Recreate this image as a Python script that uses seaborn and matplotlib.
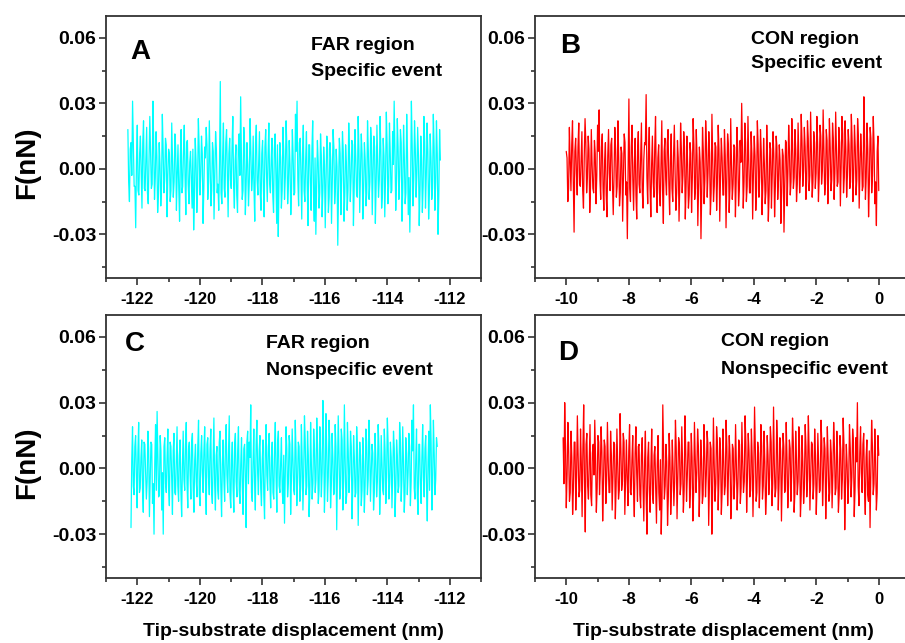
"""
AFM force traces: FAR vs CON region, specific / nonspecific events (4 panels)
"""

import numpy as np
import pandas as pd
import matplotlib
matplotlib.use("Agg")
import matplotlib.pyplot as plt
import seaborn as sns
from matplotlib.ticker import MultipleLocator, FormatStrFormatter

sns.set_style("ticks")
plt.rcParams['font.family'] = ['Liberation Sans', 'DejaVu Sans']
plt.rcParams['font.weight'] = 'bold'
plt.rcParams['axes.unicode_minus'] = False
plt.rcParams['text.color'] = 'black'
plt.rcParams['xtick.labelcolor'] = 'black'
plt.rcParams['ytick.labelcolor'] = 'black'

# displacement range of each trace (nm)
x_range_a = (-122.3, -112.3)
x_range_b = (-10.0, 0.0)
x_range_c = (-122.2, -112.4)
x_range_d = (-10.1, 0.0)

# force readings, pN: peaks of the trace (even samples) ...
force_a_pN = [
    18, -15, 12, 31, -8, -27, 20, -12, 15, -18,
    22, -10, 19, -16, 24, -9, 31, -14, 17, -20,
    12, -17, 25, -11, 14, -22, 9, -15, 21, -13,
    16, -19, 11, -24, 18, -8, 20, -21, 13, -16,
    8, -18, -28, 14, -20, 23, -12, 15, -25, 10,
    19, -14, 22, -17, 12, -23, 17, -11, -19, 40,
    -16, 21, -13, 18, -22, 14, -9, 24, -18, 11,
    -20, 16, 33, -14, 19, -21, 12, -17, 23, -10,
    15, -24, 20, -12, 17, -19, 13, -22, 18, -15,
    21, -11, 14, -20, 16, -25, -31, 12, -18, 19,
    -14, 22, -16, 13, -21, 18, -12, 25, 31, -17,
    14, -23, 20, -15, 17, -26, 11, -19, 22, -24,
    -30, 13, -18, 16, -22, 10, -27, 15, -20, 12,
    -25, 18, -16, 9, -35, 14, -21, 17, -24, 11,
    -19, 21, -15, 13, -26, 18, -12, 24, -20, 16,
    -23, 12, -17, 22, -14, 19, -21, 15, -25, 20,
    -13, 24, -18, 14, -22, 26, -16, 21, -11, 17,
    31, -19, 23, -14, 18, -24, 20, -16, 25, -21,
    -29, 31, -17, 22, -13, 19, -26, 15, -20, 24,
    -18, 21, -23, 16, -14, 25, -19, 22, -30, 18,
]
force_b_pN = [
    8, -15, 19, -10, 22, -29, 14, -12, 21, -8,
    17, -18, 23, -11, 15, -20, 18, -9, 13, -16,
    20, 27, -14, 16, -19, 12, -22, 18, -10, 14,
    -21, 19, -13, 22, -17, 10, -24, 16, -12, -32,
    32, -15, 20, -19, 14, -23, 17, -11, 21, -18,
    12, 34, -16, 19, -22, 15, -13, 24, -20, 11,
    -17, 22, -25, 14, -12, 18, -21, 16, -15, 20,
    -19, 13, -24, 21, -11, 17, -23, 15, -18, 12,
    -20, 23, -14, 18, -26, 10, -32, 19, -16, 22,
    -13, 17, -21, 25, -15, 12, -19, 20, -24, 14,
    -12, 18, -27, 16, -20, 23, -14, 11, -22, 19,
    -17, 13, 30, -18, 21, -15, 24, -11, 17, -23,
    15, -19, 22, -13, 18, -21, 14, -16, 20, -24,
    12, -18, 17, -22, 15, -14, 11, -25, 9, -29,
    13, -17, 20, -12, 23, -9, 18, -15, 21, -11,
    25, -8, 19, -14, 22, -10, 26, -13, 17, -9,
    24, -15, 20, -7, 27, -12, 18, -16, 23, -10,
    21, -14, 26, -8, 19, -17, 24, -11, 22, -13,
    18, -9, 25, -15, 20, -12, 23, -18, 16, -10,
    33, -14, 21, -22, 19, -11, 24, -16, -26, 15,
]
force_c_pN = [
    -27, 19, -12, 15, -18, 21, -9, 13, -20, 11,
    -14, 17, -22, 12, -16, -30, 20, 26, -13, 15,
    -19, -30, 14, -11, 18, -17, 10, -21, 16, -12,
    19, -15, 13, -22, 17, -10, 21, -18, 12, -14,
    16, -20, 11, -13, 22, -17, 15, -11, 19, -21,
    14, -12, 18, -16, 23, -19, 10, -14, 17, -22,
    13, -15, 20, -11, 24, -18, 12, -20, 16, -13,
    19, -16, 14, -21, 11, -27, 17, 12, 29, -15,
    18, -19, 22, -12, 15, -17, 13, -23, 20, -10,
    16, -18, 12, -14, 21, -20, 17, -11, 14, -16,
    -25, 19, -13, 15, -21, 18, -10, 22, -17, 12,
    -15, 20, -19, 24, -12, 17, -22, 21, -14, 18,
    -11, 23, -16, 19, -13, 31, -20, 25, -15, 22,
    -18, 16, -12, 20, -28, 24, -14, 18, -19, 29,
    -16, 21, -11, 17, -23, 15, -13, 19, -26, 12,
    -17, 14, -20, 18, -12, 22, -15, 11, -19, 16,
    -13, 20, -21, 15, -10, 18, -16, 23, -14, 12,
    -18, 17, -22, 13, -11, 21, -15, 19, -20, 14,
    -12, 16, -17, 22, 29, -14, 18, -21, 11, -16,
    20, -13, 15, -24, 17, 29, -19, 22, -12, 14,
]
force_d_pN = [
    14, 30, -18, 21, -15, 17, -21, 12, -19, 24,
    -13, 18, -22, 29, -29, 16, -14, 20, -17, 11,
    22, -20, 15, -12, 19, -24, 13, -16, 21, -11,
    17, -19, 12, -23, 18, -14, 25, -10, 16, -21,
    13, -17, 20, -12, 15, -22, 19, -15, 11, -18,
    14, -24, 17, -30, 12, -20, 18, -16, 10, -25,
    15, -19, -30, 29, -14, 11, -26, 16, -21, 13,
    -17, 22, -23, 14, -12, 19, -20, 24, -15, 12,
    -18, 16, -24, 21, -11, 18, -22, 13, -16, 20,
    -13, 17, -26, 12, -30, 23, -15, 19, -19, 14,
    -21, 18, -12, 22, -17, 15, -23, 11, -14, 20,
    -19, 13, -16, 21, -11, 24, -20, 16, -13, 18,
    -22, 28, -15, 12, -18, 20, -14, 17, -21, 15,
    -12, 19, -17, 28, -13, 22, -19, 14, -24, 16,
    -11, 21, -18, 13, -15, 23, -20, 17, -12, 19,
    -22, 15, -16, 20, -13, 24, -19, 12, -14, 18,
    -21, 16, -11, 22, -17, 14, -23, 19, -15, 13,
    -18, 21, -12, 17, -20, 15, -14, 23, -28, 11,
    -16, 20, -13, 18, -22, 14, 30, -17, 19, -11,
    16, -21, 13, -15, -27, 22, -12, 18, -19, 15,
]

# ... and core readings in between (odd samples), pN
core_a_pN = [
    -6, 9, -3, 11, -8, 4, -10, 7, -2, 12,
    -9, 5, -11, 3, 8, -7, 10, -4, 6, -12,
    2, -8, 9, -5, 11, -3, 7, -10, 4, -6,
    10, -2, -9, 6, -11, 8, -4, 12, -7, 3,
    -5, 9, -12, 4, -8, 10, -3, 7, -9, 5,
    11, -6, 2, -10, 8, -4, 9, -7, 3, -11,
    6, -9, 12, -2, 7, -5, 10, -8, 4, -12,
    9, -3, 5, -10, 11, -7, 2, -6, 8, -4,
    -9, 12, -5, 3, -11, 7, -8, 10, -2, 6,
    -7, 4, -12, 9, -3, 11, -6, 5, -10, 8,
    -4, 10, -7, 2, -9, 6, -11, 8, -5, 12,
    -3, 7, -10, 4, -8, 11, -6, 9, -12, 5,
    -8, 3, -11, 6, -10, 2, -7, 9, -13, 4,
    -6, 10, -9, 1, -12, 7, -5, 8, -11, 3,
    -10, 6, -4, 11, -8, 5, -13, 9, -3, 7,
    -9, 4, -11, 8, -6, 12, -2, 10, -7, 3,
    -5, 9, -12, 6, -4, 11, -8, 7, -10, 2,
    8, -6, 10, -3, 12, -9, 5, -11, 7, -4,
    -7, 11, -5, 9, -2, 6, -10, 4, -8, 12,
    -3, 8, -11, 5, -9, 10, -6, 7, -12, 4,
]
core_b_pN = [
    5, -9, 3, 11, -6, 8, -2, 10, -7, 4,
    -10, 6, 12, -4, 9, -8, 2, -11, 7, -3,
    8, -5, 10, -9, 4, -12, 6, -2, 11, -7,
    -3, 9, -8, 5, -11, 7, -4, 12, -6, 2,
    -9, 10, -5, 3, -12, 8, -7, 6, -10, 4,
    11, -4, 7, -9, 2, -6, 10, -8, 5, -11,
    3, -10, 8, -5, 12, -7, 4, -9, 6, -2,
    -11, 5, -6, 9, -3, 10, -8, 2, -12, 7,
    -4, 11, -9, 6, -7, 3, -10, 8, -5, 12,
    -2, 7, -11, 4, -8, 10, -6, 9, -3, 5,
    -12, 6, -4, 11, -9, 2, -7, 10, -5, 8,
    -10, 3, 9, -6, 12, -8, 4, -11, 7, -2,
    6, -9, 11, -4, 8, -7, 2, -10, 5, -12,
    9, -3, 7, -8, 10, -5, 4, -11, 6, -9,
    12, -2, 8, -6, 11, -4, 9, -7, 5, -3,
    13, -1, 10, -5, 14, -3, 8, -6, 12, -2,
    11, -4, 15, -1, 9, -7, 13, -3, 10, -5,
    14, -2, 8, -6, 12, 1, 16, -4, 9, -3,
    11, -6, 13, -2, 10, -5, 15, -1, 7, -8,
    12, -4, 9, -7, 14, -3, 11, -6, 8, -10,
]
core_c_pN = [
    4, -8, 10, -3, 7, -11, 5, -9, 12, -2,
    -6, 9, -4, 11, -7, 3, -10, 6, -12, 8,
    -2, 10, -7, 5, -9, 12, -4, 8, -11, 3,
    -8, 6, -10, 2, -5, 11, -7, 9, -3, 12,
    -9, 4, -6, 10, -12, 7, -2, 8, -5, 11,
    -4, 9, -11, 3, -7, 6, -10, 12, -8, 2,
    -5, 10, -3, 7, -12, 4, -9, 11, -6, 8,
    -10, 2, -8, 9, -4, 12, -7, 5, -11, 3,
    -6, 11, -2, 8, -9, 4, -12, 7, -3, 10,
    -7, 5, -11, 9, -4, 12, -8, 3, -10, 6,
    -2, 9, -7, 11, -5, 3, -12, 8, -6, 10,
    -9, 4, -3, 12, -8, 6, -11, 2, -7, 9,
    -5, 11, -10, 7, -2, 13, -6, 9, -4, 12,
    -8, 5, -11, 10, -3, 7, -9, 13, -6, 4,
    -12, 8, -2, 10, -7, 5, -11, 9, -4, 6,
    -10, 3, -8, 12, -5, 9, -2, 7, -11, 4,
    -6, 10, -9, 2, -12, 8, -4, 11, -7, 5,
    -3, 9, -10, 6, -8, 12, -5, 3, -11, 7,
    -2, 10, -6, 8, -9, 4, -12, 11, -7, 5,
    -4, 9, -8, 3, -10, 12, -6, 7, -5, 10,
]
core_d_pN = [
    -7, 10, -3, 8, -11, 5, -9, 12, -4, 6,
    -10, 2, 9, -6, 11, -8, 4, -12, 7, -3,
    5, -9, 12, -2, 8, -7, 10, -5, 3, -11,
    6, -4, 11, -8, 2, -10, 9, -6, 12, -3,
    -5, 8, -11, 4, -9, 7, -2, 10, -12, 6,
    -8, 3, -13, 5, -10, 1, -12, 6, -9, 2,
    -11, 4, -14, 7, -8, 3, -13, 5, -10, 0,
    -6, 9, -4, 11, -7, 2, -10, 8, -3, 12,
    -9, 5, -11, 6, -2, 10, -8, 4, -12, 7,
    -3, 11, -6, 9, -10, 2, -7, 12, -5, 8,
    -11, 4, -8, 10, -3, 6, -12, 9, -5, 2,
    -7, 11, -9, 3, -6, 12, -4, 8, -10, 5,
    -2, 9, -11, 7, -5, 10, -8, 3, -12, 6,
    -4, 12, -7, 2, -9, 11, -6, 8, -3, 10,
    -10, 5, -8, 9, -2, 12, -11, 4, -6, 7,
    -12, 3, -9, 10, -5, 8, -3, 11, -7, 6,
    -8, 2, -10, 12, -4, 9, -6, 5, -11, 7,
    -3, 10, -9, 4, -12, 8, -5, 11, -7, 2,
    -6, 9, -4, 12, -10, 3, -8, 7, -2, 11,
    -9, 5, -12, 8, -3, 10, -7, 4, -11, 6,
]

panel_letters = ["A", "B", "C", "D"]
region_labels = ["FAR region", "CON region", "FAR region", "CON region"]
event_labels = ["Specific event", "Specific event", "Nonspecific event", "Nonspecific event"]
xlims = [(-123, -111), (-11, 1), (-123, -111), (-11, 1)]
xticks = [np.arange(-122, -111, 2), np.arange(-10, 1, 2)] * 2

W, H = 905, 643
fig = plt.figure(figsize=(W / 100, H / 100), dpi=100)


def px(x, y):
    return x / W, 1 - y / H


# axes boxes in pixels: left, top, right, bottom
boxes = [(106, 16, 481, 278), (535, 16, 910, 278),
         (106, 315, 481, 578), (535, 315, 910, 578)]
ranges = [x_range_a, x_range_b, x_range_c, x_range_d]
peaks = [force_a_pN, force_b_pN, force_c_pN, force_d_pN]
cores = [core_a_pN, core_b_pN, core_c_pN, core_d_pN]
colors = ["#00FFFF", "#FF0000", "#00FFFF", "#FF0000"]

# text anchors in pixels: letter (x, y), label (x, y1, y2)
letter_pos = [(130, 52), (560, 46), (125, 344), (558, 353)]
label_pos = [(311, 45, 71), (751, 39, 64), (266, 344, 371), (721, 342, 369)]

for i in range(4):
    l, t, r, b = boxes[i]
    ax = fig.add_axes([l / W, 1 - b / H, (r - l) / W, (b - t) / H])
    n = len(peaks[i]) + len(cores[i])
    vals = np.empty(n)
    vals[0::2] = peaks[i]
    vals[1::2] = cores[i]
    df = pd.DataFrame({"x": np.linspace(ranges[i][0], ranges[i][1], n),
                       "F": vals / 1000.0})
    sns.lineplot(data=df, x="x", y="F", ax=ax, color=colors[i],
                 linewidth=0.9, sort=False, estimator=None)

    ax.set_xlim(*xlims[i])
    ax.set_ylim(-0.05, 0.07)
    ax.set_xticks(xticks[i])
    ax.xaxis.set_minor_locator(MultipleLocator(1))
    ax.set_yticks([-0.03, 0.0, 0.03, 0.06])
    ax.yaxis.set_minor_locator(MultipleLocator(0.015))
    ax.yaxis.set_major_formatter(FormatStrFormatter('%.2f'))
    ax.set_xlabel("")
    ax.set_ylabel("")
    for s in ax.spines.values():
        s.set_visible(True)
        s.set_linewidth(1.3)
        s.set_color("#333333")
    ax.tick_params(which="major", direction="out", length=5, width=1.2, color="#333333")
    ax.tick_params(which="minor", direction="out", length=3, width=1.2, color="#333333")
    ax.tick_params(axis="y", labelsize=14, pad=2)
    ax.tick_params(axis="x", labelsize=12, pad=5)
    for lab in ax.get_xticklabels() + ax.get_yticklabels():
        lab.set_fontweight("bold")

    lx, ly = letter_pos[i]
    fig.text(*px(lx, ly), panel_letters[i], fontsize=20, fontweight="bold",
             ha="left", va="center")
    tx, ty1, ty2 = label_pos[i]
    fig.text(*px(tx, ty1), region_labels[i], fontsize=14, fontweight="bold",
             ha="left", va="center")
    fig.text(*px(tx, ty2), event_labels[i], fontsize=14, fontweight="bold",
             ha="left", va="center")

# shared axis titles
for yc in (163, 463):
    fig.text(*px(27, yc), "F(nN)", rotation=90, fontsize=20, fontweight="bold",
             ha="center", va="center")
for xc in (293, 723):
    fig.text(*px(xc, 632), "Tip-substrate displacement (nm)", fontsize=14,
             fontweight="bold", ha="center", va="center")

fig.savefig("out.png", dpi=100)
plt.close(fig)
